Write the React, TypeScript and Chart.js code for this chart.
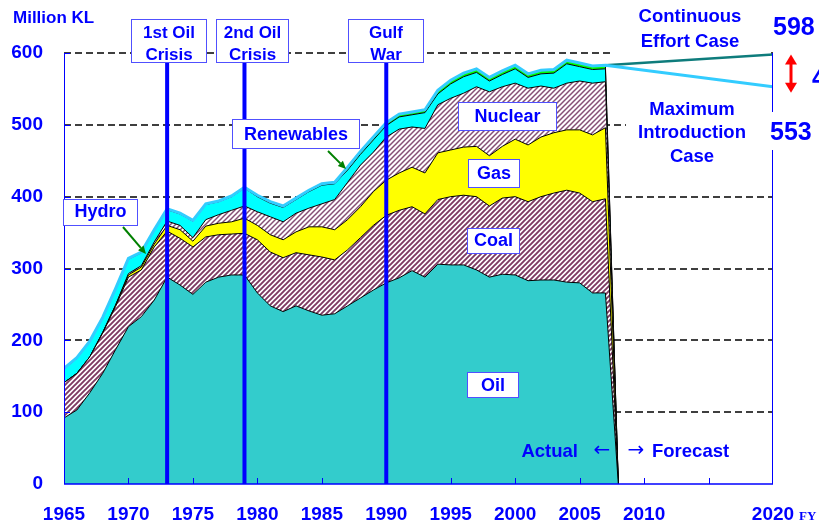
import React, { useEffect, useRef } from 'react';
import { Chart, registerables } from 'chart.js';

Chart.register(...registerables);

// ---------------- data (million KL, crude oil equivalent) ----------------
const years = [
  1965, 1966, 1967, 1968, 1969, 1970, 1971, 1972, 1973, 1974,
  1975, 1976, 1977, 1978, 1979, 1980, 1981, 1982, 1983, 1984,
  1985, 1986, 1987, 1988, 1989, 1990, 1991, 1992, 1993, 1994,
  1995, 1996, 1997, 1998, 1999, 2000, 2001, 2002, 2003, 2004,
  2005, 2006, 2007,
];
const oil = [
  92, 103, 127, 154, 187, 219, 233, 256, 288, 277,
  264, 281, 288, 291, 291, 266, 248, 240, 248, 241,
  235, 237, 248, 259, 270, 280, 287, 297, 288, 306,
  305, 305, 298, 288, 292, 291, 283, 284, 284, 281,
  280, 266, 266,
];
const coal = [
  49, 51, 50, 56, 60, 69, 65, 74, 64, 65,
  66, 63, 59, 57, 58, 74, 75, 75, 74, 78,
  81, 75, 78, 84, 90, 94, 94, 89, 88, 90,
  95, 97, 102, 99, 106, 109, 110, 116, 121, 128,
  125, 127, 131,
];
const gas = [
  0, 0, 0, 1, 2, 3, 4, 4, 8, 12,
  8, 15, 16, 17, 21, 20, 24, 25, 29, 39,
  42, 42, 42, 43, 47, 49, 52, 55, 57, 65,
  65, 67, 70, 70, 72, 80, 79, 83, 84, 84,
  88, 93, 99,
];
const nuclear = [
  0, 0, 0, 0, 0, 2, 2, 3, 6, 6,
  5, 9, 12, 16, 17, 19, 25, 25, 26, 26,
  32, 42, 52, 58, 55, 60, 61, 56, 62, 67,
  72, 75, 83, 89, 83, 78, 79, 71, 62, 65,
  68, 72, 64,
];
const hydro = [
  19, 21, 21, 20, 22, 20, 18, 16, 16, 16,
  23, 21, 18, 19, 25, 21, 19, 20, 19, 23,
  26, 22, 17, 15, 17, 16, 17, 17, 22, 15,
  20, 23, 20, 15, 17, 20, 15, 17, 21, 27,
  20, 19, 18,
];
const renewables = [
  1, 1, 1, 1, 1, 1, 1, 1, 1, 1,
  1, 1, 1, 1, 1, 2, 2, 2, 2, 2,
  2, 2, 4, 4, 4, 4, 4, 4, 4, 5,
  5, 5, 5, 5, 5, 5, 5, 5, 5, 5,
  5, 5, 5,
];
const cliffYear = 2008;
const forecastYear = 2020;
const continuousEffortCase = 598;
const maximumIntroductionCase = 553;

const xTickValues = [1965, 1970, 1975, 1980, 1985, 1990, 1995, 2000, 2005, 2010, 2020];
const xMinorTickValues = [1970, 1975, 1980, 1985, 1990, 1995, 2000, 2005, 2010, 2015];
const yTickValues = [0, 100, 200, 300, 400, 500, 600];

const events = [
  { year: 1973, lines: ['1st Oil', 'Crisis'] },
  { year: 1979, lines: ['2nd Oil', 'Crisis'] },
  { year: 1990, lines: ['Gulf', 'War'] },
];

// ---------------- styles ----------------
const FONT = '"Liberation Sans", Arial, sans-serif';
const BLUE = '#0000FF';
const BOX_BORDER = '#5050FF';

function makeStripes(color: string, lw: number, size: number): CanvasPattern | string {
  const c = document.createElement('canvas');
  c.width = size;
  c.height = size;
  const g = c.getContext('2d');
  if (!g) return color;
  g.fillStyle = '#ffffff';
  g.fillRect(0, 0, size, size);
  g.strokeStyle = color;
  g.lineWidth = lw;
  g.beginPath();
  g.moveTo(-1, size + 1);
  g.lineTo(size + 1, -1);
  g.moveTo(-1, 1);
  g.lineTo(1, -1);
  g.moveTo(size - 1, size + 1);
  g.lineTo(size + 1, size - 1);
  g.stroke();
  return g.createPattern(c, 'repeat') || color;
}

function line(ctx: CanvasRenderingContext2D, x1: number, y1: number, x2: number, y2: number) {
  ctx.beginPath();
  ctx.moveTo(x1, y1);
  ctx.lineTo(x2, y2);
  ctx.stroke();
}

function arrow(ctx: CanvasRenderingContext2D, x1: number, y1: number, x2: number, y2: number, color: string, lw: number, head: number) {
  const ang = Math.atan2(y2 - y1, x2 - x1);
  const bx = x2 - Math.cos(ang) * head;
  const by = y2 - Math.sin(ang) * head;
  ctx.strokeStyle = color;
  ctx.fillStyle = color;
  ctx.lineWidth = lw;
  line(ctx, x1, y1, bx, by);
  ctx.beginPath();
  ctx.moveTo(x2, y2);
  ctx.lineTo(bx + Math.cos(ang + Math.PI / 2) * head * 0.45, by + Math.sin(ang + Math.PI / 2) * head * 0.45);
  ctx.lineTo(bx - Math.cos(ang + Math.PI / 2) * head * 0.45, by - Math.sin(ang + Math.PI / 2) * head * 0.45);
  ctx.closePath();
  ctx.fill();
}

function labelBox(ctx: CanvasRenderingContext2D, l: number, t: number, r: number, b: number, lines: string[], cys: number[], size = 18) {
  ctx.fillStyle = '#ffffff';
  ctx.fillRect(l, t, r - l, b - t);
  ctx.strokeStyle = BOX_BORDER;
  ctx.lineWidth = 1;
  ctx.strokeRect(l + 0.5, t + 0.5, r - l - 1, b - t - 1);
  ctx.fillStyle = BLUE;
  ctx.font = `bold ${size}px ${FONT}`;
  ctx.textAlign = 'center';
  ctx.textBaseline = 'middle';
  lines.forEach((s, i) => ctx.fillText(s, (l + r) / 2, cys[i]));
}

function text(ctx: CanvasRenderingContext2D, s: string, x: number, y: number, font: string, align: CanvasTextAlign) {
  ctx.fillStyle = BLUE;
  ctx.font = font;
  ctx.textAlign = align;
  ctx.textBaseline = 'middle';
  ctx.fillText(s, x, y);
}

const eventBoxes = [
  { l: 131, r: 207 },
  { l: 216, r: 289 },
  { l: 348, r: 424 },
];

const overlay = {
  id: 'overlay',
  beforeDatasetsDraw(chart: any) {
    const { ctx, chartArea: a, scales } = chart;
    const y = scales.y;
    ctx.save();
    ctx.strokeStyle = '#000000';
    ctx.lineWidth = 1.5;
    ctx.setLineDash([7, 4]);
    yTickValues.forEach((v) => {
      if (v === 0) return;
      const py = Math.round(y.getPixelForValue(v));
      line(ctx, a.left, py, a.right, py);
    });
    ctx.setLineDash([]);
    // white backgrounds of the forecast case captions
    ctx.fillStyle = '#ffffff';
    ctx.fillRect(614, 2, 157, 54);
    ctx.fillRect(626, 94, 142, 76);
    ctx.restore();
  },
  afterDatasetsDraw(chart: any) {
    const { ctx, chartArea: a, scales } = chart;
    const x = scales.x;
    const y = scales.y;
    ctx.save();

    // event lines
    ctx.strokeStyle = BLUE;
    ctx.lineWidth = 4;
    events.forEach((ev) => {
      const px = x.getPixelForValue(ev.year);
      line(ctx, px, 63, px, a.bottom);
    });

    // axes
    ctx.strokeStyle = BLUE;
    ctx.lineWidth = 1;
    line(ctx, a.left + 0.5, a.top, a.left + 0.5, a.bottom);
    line(ctx, a.right - 0.5, a.top, a.right - 0.5, a.bottom);
    ctx.lineWidth = 1.5;
    line(ctx, a.left, a.bottom, a.right, a.bottom);
    ctx.lineWidth = 1;
    xMinorTickValues.forEach((v) => {
      const px = Math.round(x.getPixelForValue(v)) + 0.5;
      line(ctx, px, a.bottom, px, a.bottom - 6);
    });
    yTickValues.forEach((v) => {
      if (v === 0) return;
      const py = Math.round(y.getPixelForValue(v)) + 0.5;
      line(ctx, a.left, py, a.left + 6, py);
    });

    // event boxes
    events.forEach((ev, i) => {
      const bx = eventBoxes[i];
      labelBox(ctx, bx.l, 19, bx.r, 63, ev.lines, [33, 55], 17);
    });

    // series labels
    labelBox(ctx, 232, 119, 360, 149, ['Renewables'], [135]);
    labelBox(ctx, 63, 199, 138, 226, ['Hydro'], [212.5]);
    labelBox(ctx, 458, 102, 557, 131, ['Nuclear'], [117]);
    labelBox(ctx, 468, 159, 520, 188, ['Gas'], [174]);
    labelBox(ctx, 467, 228, 520, 254, ['Coal'], [241]);
    labelBox(ctx, 467, 372, 519, 398, ['Oil'], [386]);

    arrow(ctx, 328, 151, 346, 169, '#008000', 2, 8);
    arrow(ctx, 123, 227, 146, 254, '#008000', 2, 8);

    // texts
    text(ctx, 'Million KL', 13, 18, `bold 17px ${FONT}`, 'left');
    text(ctx, 'Continuous', 690, 17, `bold 18.5px ${FONT}`, 'center');
    text(ctx, 'Effort Case', 690, 42, `bold 18.5px ${FONT}`, 'center');
    text(ctx, 'Maximum', 692, 110, `bold 18.5px ${FONT}`, 'center');
    text(ctx, 'Introduction', 692, 133, `bold 18.5px ${FONT}`, 'center');
    text(ctx, 'Case', 692, 157, `bold 18.5px ${FONT}`, 'center');

    text(ctx, String(continuousEffortCase), 773, 28, `bold 25px ${FONT}`, 'left');
    ctx.fillStyle = '#ffffff';
    ctx.fillRect(766, 112, 53, 38);
    text(ctx, String(maximumIntroductionCase), 770, 133, `bold 25px ${FONT}`, 'left');
    text(ctx, String(continuousEffortCase - maximumIntroductionCase), 812, 79, `bold 25px ${FONT}`, 'left');

    // red double arrow
    const ax = 791;
    const yTop = y.getPixelForValue(continuousEffortCase);
    const yBot = y.getPixelForValue(maximumIntroductionCase) + 6;
    ctx.strokeStyle = '#FF0000';
    ctx.fillStyle = '#FF0000';
    ctx.lineWidth = 3;
    line(ctx, ax, yTop + 8, ax, yBot - 8);
    ctx.beginPath();
    ctx.moveTo(ax, yTop);
    ctx.lineTo(ax - 6, yTop + 10);
    ctx.lineTo(ax + 6, yTop + 10);
    ctx.closePath();
    ctx.fill();
    ctx.beginPath();
    ctx.moveTo(ax, yBot);
    ctx.lineTo(ax - 6, yBot - 10);
    ctx.lineTo(ax + 6, yBot - 10);
    ctx.closePath();
    ctx.fill();

    // actual / forecast
    text(ctx, 'Actual', 578, 452, `bold 18.5px ${FONT}`, 'right');
    text(ctx, '\u2190', 602, 451, `20px "DejaVu Sans", sans-serif`, 'center');
    text(ctx, '\u2192', 636, 451, `20px "DejaVu Sans", sans-serif`, 'center');
    text(ctx, 'Forecast', 652, 452, `bold 18.5px ${FONT}`, 'left');

    text(ctx, 'FY', 799, 517, `bold 13px "Liberation Serif", "DejaVu Serif", serif`, 'left');

    ctx.restore();
  },
};

export default function App() {
  const ref = useRef<HTMLCanvasElement | null>(null);

  useEffect(() => {
    const canvas = ref.current;
    if (!canvas) return;

    const layers = [oil, coal, gas, nuclear, hydro, renewables];
    const cum: number[][] = [];
    layers.forEach((arr, k) => {
      cum.push(arr.map((v, i) => v + (k > 0 ? cum[k - 1][i] : 0)));
    });
    const totals = cum[cum.length - 1];
    const toPts = (arr: number[]) => [
      ...years.map((yr, i) => ({ x: yr, y: arr[i] })),
      { x: cliffYear, y: 0 },
    ];
    const lastYear = years[years.length - 1];
    const lastTotal = totals[totals.length - 1];

    const coalPattern = makeStripes('#7E3A62', 1.9, 5);
    const nuclearPattern = makeStripes('#865076', 1.5, 5);

    const area = (label: string, k: number, bg: any) => ({
      label,
      data: toPts(cum[k]),
      backgroundColor: bg,
      borderColor: '#000000',
      borderWidth: 1,
      fill: k === 0 ? 'origin' : '-1',
      pointRadius: 0,
      tension: 0,
    });

    const chart = new Chart(canvas, {
      type: 'line',
      data: {
        datasets: [
          {
            label: 'Maximum Introduction Case',
            data: [...years.map((yr, i) => ({ x: yr, y: totals[i] })), { x: forecastYear, y: maximumIntroductionCase }],
            borderColor: '#33CCFF',
            borderWidth: 3,
            fill: false,
            pointRadius: 0,
          },
          {
            label: 'Continuous Effort Case',
            data: [{ x: lastYear, y: lastTotal }, { x: forecastYear, y: continuousEffortCase }],
            borderColor: '#0E7C7C',
            borderWidth: 2.5,
            fill: false,
            pointRadius: 0,
          },
          area('Oil', 0, '#33CCCC'),
          area('Coal', 1, coalPattern),
          area('Gas', 2, '#FFFF00'),
          area('Nuclear', 3, nuclearPattern),
          area('Hydro', 4, '#00FFFF'),
          area('Renewables', 5, '#00FF00'),
        ] as any,
      },
      options: {
        responsive: false,
        animation: false,
        events: [],
        layout: { padding: { top: 53, right: 46, left: 0, bottom: 0 } },
        plugins: {
          legend: { display: false },
          tooltip: { enabled: false },
        },
        scales: {
          x: {
            type: 'linear',
            min: 1965,
            max: forecastYear,
            grid: { display: false, drawTicks: false },
            border: { display: false },
            afterBuildTicks: (s: any) => {
              s.ticks = xTickValues.map((v) => ({ value: v }));
            },
            afterFit: (s: any) => {
              s.height = 41;
            },
            ticks: {
              autoSkip: false,
              maxRotation: 0,
              padding: 19,
              color: BLUE,
              font: { family: FONT, size: 19, weight: 'bold' },
              callback: (v: any) => String(v),
            },
          },
          y: {
            type: 'linear',
            min: 0,
            max: 600,
            grid: { display: false, drawTicks: false },
            border: { display: false },
            afterBuildTicks: (s: any) => {
              s.ticks = yTickValues.map((v) => ({ value: v }));
            },
            afterFit: (s: any) => {
              s.width = 64;
            },
            ticks: {
              padding: 21,
              color: BLUE,
              font: { family: FONT, size: 19, weight: 'bold' },
              callback: (v: any) => String(v),
            },
          },
        },
      } as any,
      plugins: [overlay],
    });

    return () => chart.destroy();
  }, []);

  return (
    <div style={{ position: 'absolute', left: 0, top: 0, width: 819, height: 525, background: '#ffffff' }}>
      <canvas ref={ref} width={819} height={525} />
    </div>
  );
}
